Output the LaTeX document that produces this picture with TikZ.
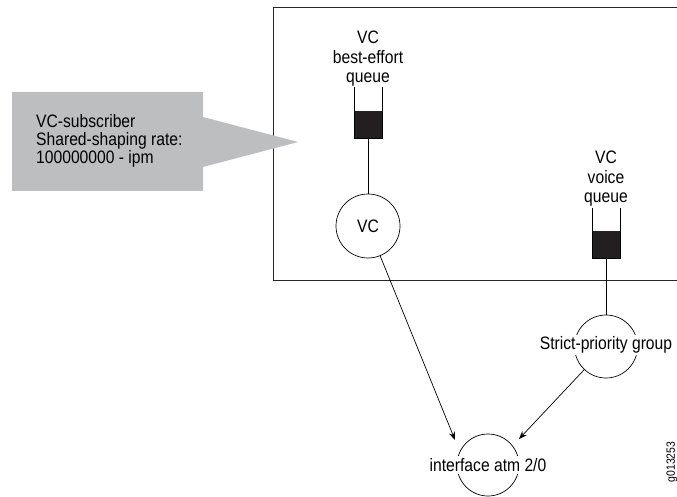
\documentclass[tikz,border=0pt]{standalone}
\usepackage{fontspec}
\setmainfont{Liberation Sans}[FakeStretch=0.87]
\usetikzlibrary{arrows.meta}
\definecolor{callgray}{HTML}{BCBEC0}
\definecolor{qfill}{HTML}{231F20}
\begin{document}
\begin{tikzpicture}[x=1pt,y=-1pt,
  txt/.style={font=\fontsize{18}{19.5}\selectfont, inner sep=0pt, align=center},
  circ/.style={draw, circle, line width=0.7pt, minimum size=#1, inner sep=0pt, font=\fontsize{18}{19.5}\selectfont},
  qbox/.style={fill=qfill, minimum width=28pt, minimum height=27pt, inner sep=0pt},
  wall/.style={line width=0.7pt},
  link/.style={line width=0.7pt},
  arr/.style={line width=0.7pt, -{Stealth[length=8pt,width=6pt]}},
  cover/.style={font=\fontsize{18}{19.5}\selectfont, fill=white, inner xsep=0pt, inner ysep=2pt}
]
\useasboundingbox (0,0) rectangle (677,497);
% outer box (open at the right)
\draw[line width=1pt, draw=black!85] (690,7.5) -- (273,7.5) -- (273,280.5) -- (690,280.5);
% callout
\fill[callgray] (12,92) -- (203,92) -- (203,117) -- (298,142) -- (203,167) -- (203,191) -- (12,191) -- cycle;
\node[font=\fontsize{18}{18}\selectfont, inner sep=0pt, align=left, anchor=north west] (callout) at (36,114)
  {VC-subscriber\\Shared-shaping rate:\\100000000 - ipm};
% best-effort queue
\node[txt, anchor=north] (belbl) at (368,31) {VC\\best-effort\\queue};
\node[qbox] (beq) at (368,124.5) {};
\draw[wall] (354,87) -- (354,138) -- (382,138) -- (382,87);
% voice queue
\node[txt, anchor=north] (vqlbl) at (606,151) {VC\\voice\\queue};
\node[qbox] (vq) at (606,244.5) {};
\draw[wall] (592,208) -- (592,258) -- (620,258) -- (620,208);
% VC node
\node[circ=64pt] (vc) at (368,226) {VC};
\draw[link] (beq.south) -- (vc.north);
% strict-priority group
\node[circ=63pt] (sp) at (606,346.5) {};
\node[cover] (sptext) at (606,345) {Strict-priority group};
\draw[link] (vq.south) -- (sp.north);
% interface
\node[circ=62pt] (ifc) at (488,465) {};
\node[cover] (ifctext) at (488,465) {interface atm 2/0};
\coordinate (tipa) at (455,440);
\coordinate (tipb) at (519,439);
\draw[arr] (vc) -- (tipa);
\draw[arr] (sp) -- (tipb);
% figure id
\node[font=\fontsize{12}{12}\selectfont, rotate=90, inner sep=0pt] (figid) at (672,462) {g013253};
\end{tikzpicture}
\end{document}
